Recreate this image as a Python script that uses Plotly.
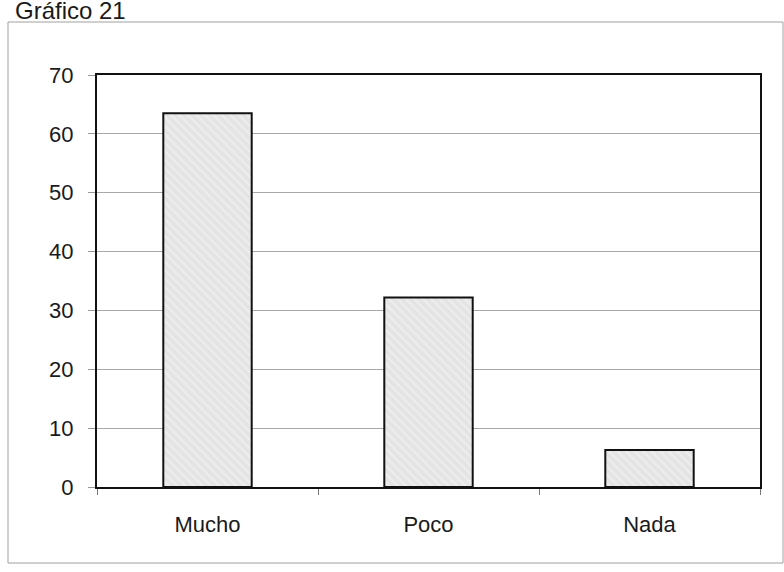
import plotly.graph_objects as go

categories = ["Mucho", "Poco", "Nada"]
values = [63.5, 32.2, 6.3]
y_ticks = [0, 10, 20, 30, 40, 50, 60, 70]
title_text = "Gráfico 21"

W, H = 784, 572
L, R, T, B = 97, 760, 75, 487
pw, ph = R - L, B - T

def px(x):
    return (x - L) / pw

def py(y):
    return (B - y) / ph

fig = go.Figure()
fig.add_trace(go.Bar(
    x=categories, y=values,
    marker=dict(
        color="#e6e6e6",
        line=dict(color="#111111", width=2),
        pattern=dict(shape="\\", fgcolor="#f7f7f7", bgcolor="#e4e4e4", size=6, solidity=0.35),
    ),
    width=0.4,
    hoverinfo="skip",
))

fig.update_layout(
    width=W, height=H,
    margin=dict(l=L, r=W - R, t=T, b=H - B),
    paper_bgcolor="white", plot_bgcolor="white",
    showlegend=False,
    font=dict(family="Liberation Sans, Arial, sans-serif", size=22, color="#1a1a1a"),
    xaxis=dict(
        showline=True, linecolor="#111111", linewidth=2, mirror=True,
        ticks="outside", ticklen=6, tickcolor="#777777", tickson="boundaries",
        showgrid=False, ticklabelstandoff=17,
        tickfont=dict(size=22),
    ),
    yaxis=dict(
        range=[0, 70], tickvals=y_ticks,
        showline=True, linecolor="#111111", linewidth=2, mirror=True,
        ticks="outside", ticklen=7, tickcolor="#999999",
        showgrid=True, gridcolor="#a8a8a8", gridwidth=1,
        zeroline=False, ticklabelstandoff=10,
        tickfont=dict(size=22),
    ),
    shapes=[dict(
        type="rect", xref="paper", yref="paper",
        x0=px(8), x1=px(783), y0=py(563), y1=py(22),
        line=dict(color="#a0a0a0", width=1), fillcolor="rgba(0,0,0,0)", layer="below",
    )],
    annotations=[dict(
        text=title_text, xref="paper", yref="paper",
        x=px(13), y=py(26), xanchor="left", yanchor="bottom",
        showarrow=False, font=dict(size=24, color="#1a1a1a"),
    )],
)

fig.write_html(
    "out.html",
    config={"displayModeBar": False},
    post_script="document.body.style.margin='0';document.body.style.padding='0';",
)
